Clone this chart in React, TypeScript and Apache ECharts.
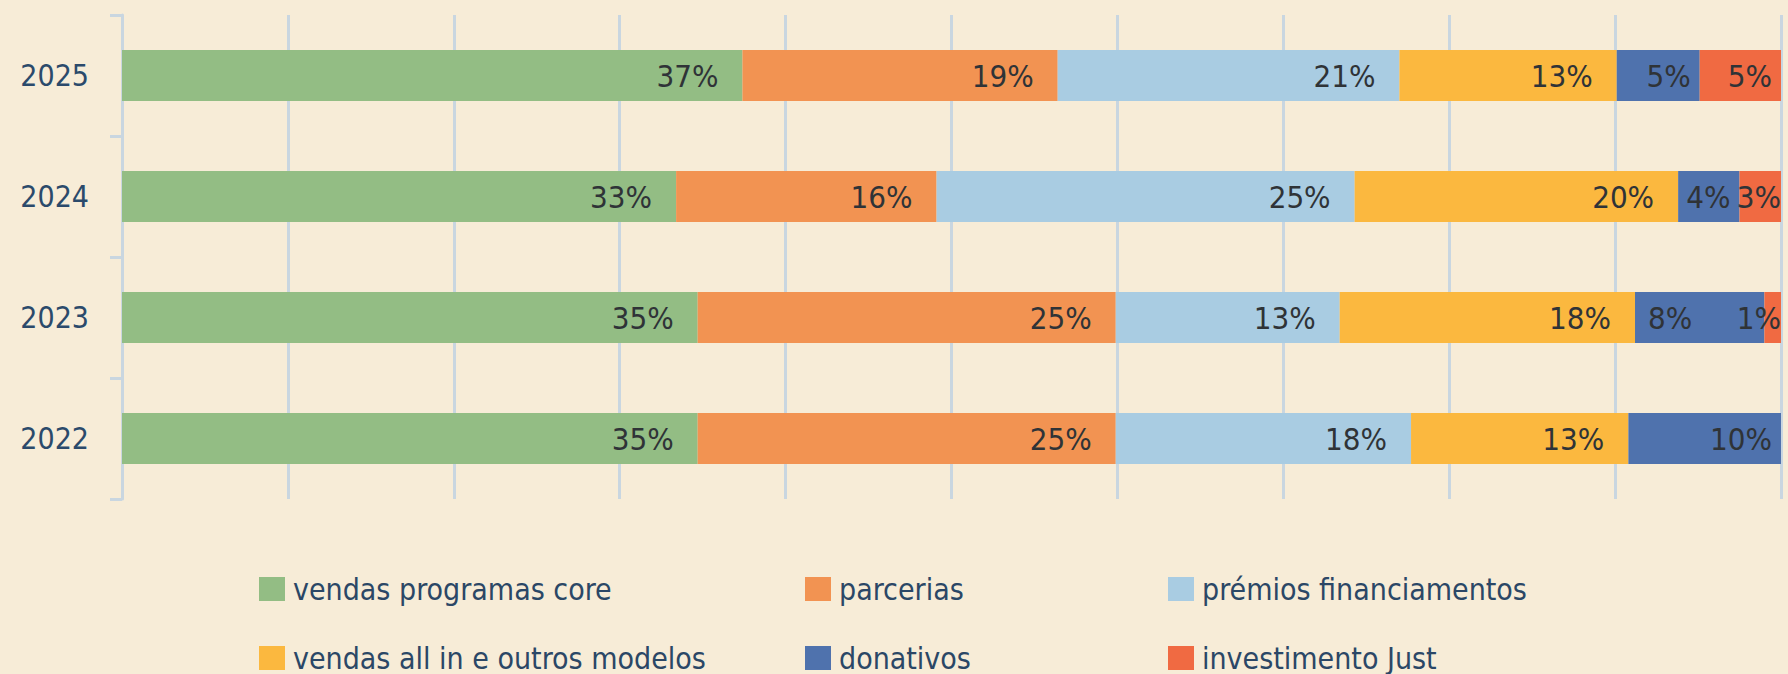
import React, { useEffect, useRef } from "react";
import * as echarts from "echarts";

const years = ["2022", "2023", "2024", "2025"];

const seriesNames = [
  "vendas programas core",
  "parcerias",
  "prémios financiamentos",
  "vendas all in e outros modelos",
  "donativos",
  "investimento Just",
];

// bar widths (share of 100), bottom (2022) to top (2025)
const vendasCore = [34.7, 34.7, 33.4, 37.4];
const parcerias = [25.2, 25.2, 15.7, 19.0];
const premios = [17.8, 13.5, 25.2, 20.6];
const vendasAllIn = [13.1, 17.8, 19.5, 13.1];
const donativos = [9.2, 7.8, 3.7, 5.0];
const investimento = [0, 1.0, 2.5, 4.9];

// percentages printed on the bars
const vendasCoreLbl = [35, 35, 33, 37];
const parceriasLbl = [25, 25, 16, 19];
const premiosLbl = [18, 13, 25, 21];
const vendasAllInLbl = [13, 18, 20, 13];
const donativosLbl = [10, 8, 4, 5];
const investimentoLbl = [null, 1, 3, 5];

const colors = ["#93bd84", "#f29352", "#a9cce2", "#fbb83f", "#4f72ad", "#f06a42"];

const FONT = "'Liberation Sans Narrow', 'DejaVu Sans Condensed', 'Roboto', sans-serif";

export default function App() {
  const ref = useRef<HTMLDivElement>(null);
  useEffect(() => {
    document.body.style.margin = "0";
    const chart = echarts.init(ref.current!, null, { renderer: "svg" });
    const values = [vendasCore, parcerias, premios, vendasAllIn, donativos, investimento];
    const labels = [vendasCoreLbl, parceriasLbl, premiosLbl, vendasAllInLbl, donativosLbl, investimentoLbl];

    const series = seriesNames.map((name, si) => ({
      name,
      type: "bar",
      stack: "total",
      barWidth: 51,
      itemStyle: { color: colors[si] },
      data: values[si].map((v, i) => {
        const lbl = labels[si][i];
        if (!v) return { value: "-" as any };
        const next = si + 1 < values.length ? values[si + 1][i] : 0;
        const nextTiny = next > 0 && next < 2;
        const dist = v >= 10 ? 24 : v >= 3 ? 9 : 0;
        return {
          value: v,
          label: {
            show: lbl != null,
            position: nextTiny ? "insideLeft" : "insideRight",
            distance: nextTiny ? 13 : dist,
            formatter: lbl != null ? `${lbl}%` : "",
          },
        };
      }),
      label: {
        show: true,
        position: "insideRight",
        color: "#2f3337",
        fontSize: 31,
        fontFamily: FONT,
      },
    }));

    const legendPos = [
      { left: 259, top: 574 },
      { left: 805, top: 574 },
      { left: 1168, top: 574 },
      { left: 259, top: 643 },
      { left: 805, top: 643 },
      { left: 1168, top: 643 },
    ];

    const legends = seriesNames.map((name, i) => ({
      data: [name],
      left: legendPos[i].left,
      top: legendPos[i].top,
      padding: 0,
      itemWidth: 26,
      itemHeight: 24,
      icon: "rect",
      selectedMode: false,
      textStyle: {
        fontSize: 30,
        lineHeight: 30,
        color: "#2b4766",
        fontFamily: FONT,
        padding: [0, 0, 0, 3],
      },
    }));

    chart.setOption({
      animation: false,
      backgroundColor: "#f7ecd7",
      grid: { left: 122, right: 7, top: 15, bottom: 175, containLabel: false },
      legend: legends,
      xAxis: {
        type: "value",
        min: 0,
        max: 100,
        interval: 10,
        axisLabel: { show: false },
        axisLine: { show: false },
        axisTick: { show: false },
        splitLine: { show: true, lineStyle: { color: "#c9d6e0", width: 3 } },
      },
      yAxis: {
        type: "category",
        data: years,
        axisLine: { show: true, lineStyle: { color: "#c9d6e0", width: 3 } },
        axisTick: { show: true, length: 12, lineStyle: { color: "#c9d6e0", width: 3 } },
        axisLabel: { fontSize: 30, color: "#2b4a6b", margin: 33, fontFamily: FONT },
        splitLine: { show: false },
      },
      series,
    });
    return () => chart.dispose();
  }, []);
  return <div ref={ref} style={{ width: 1788, height: 674 }} />;
}
